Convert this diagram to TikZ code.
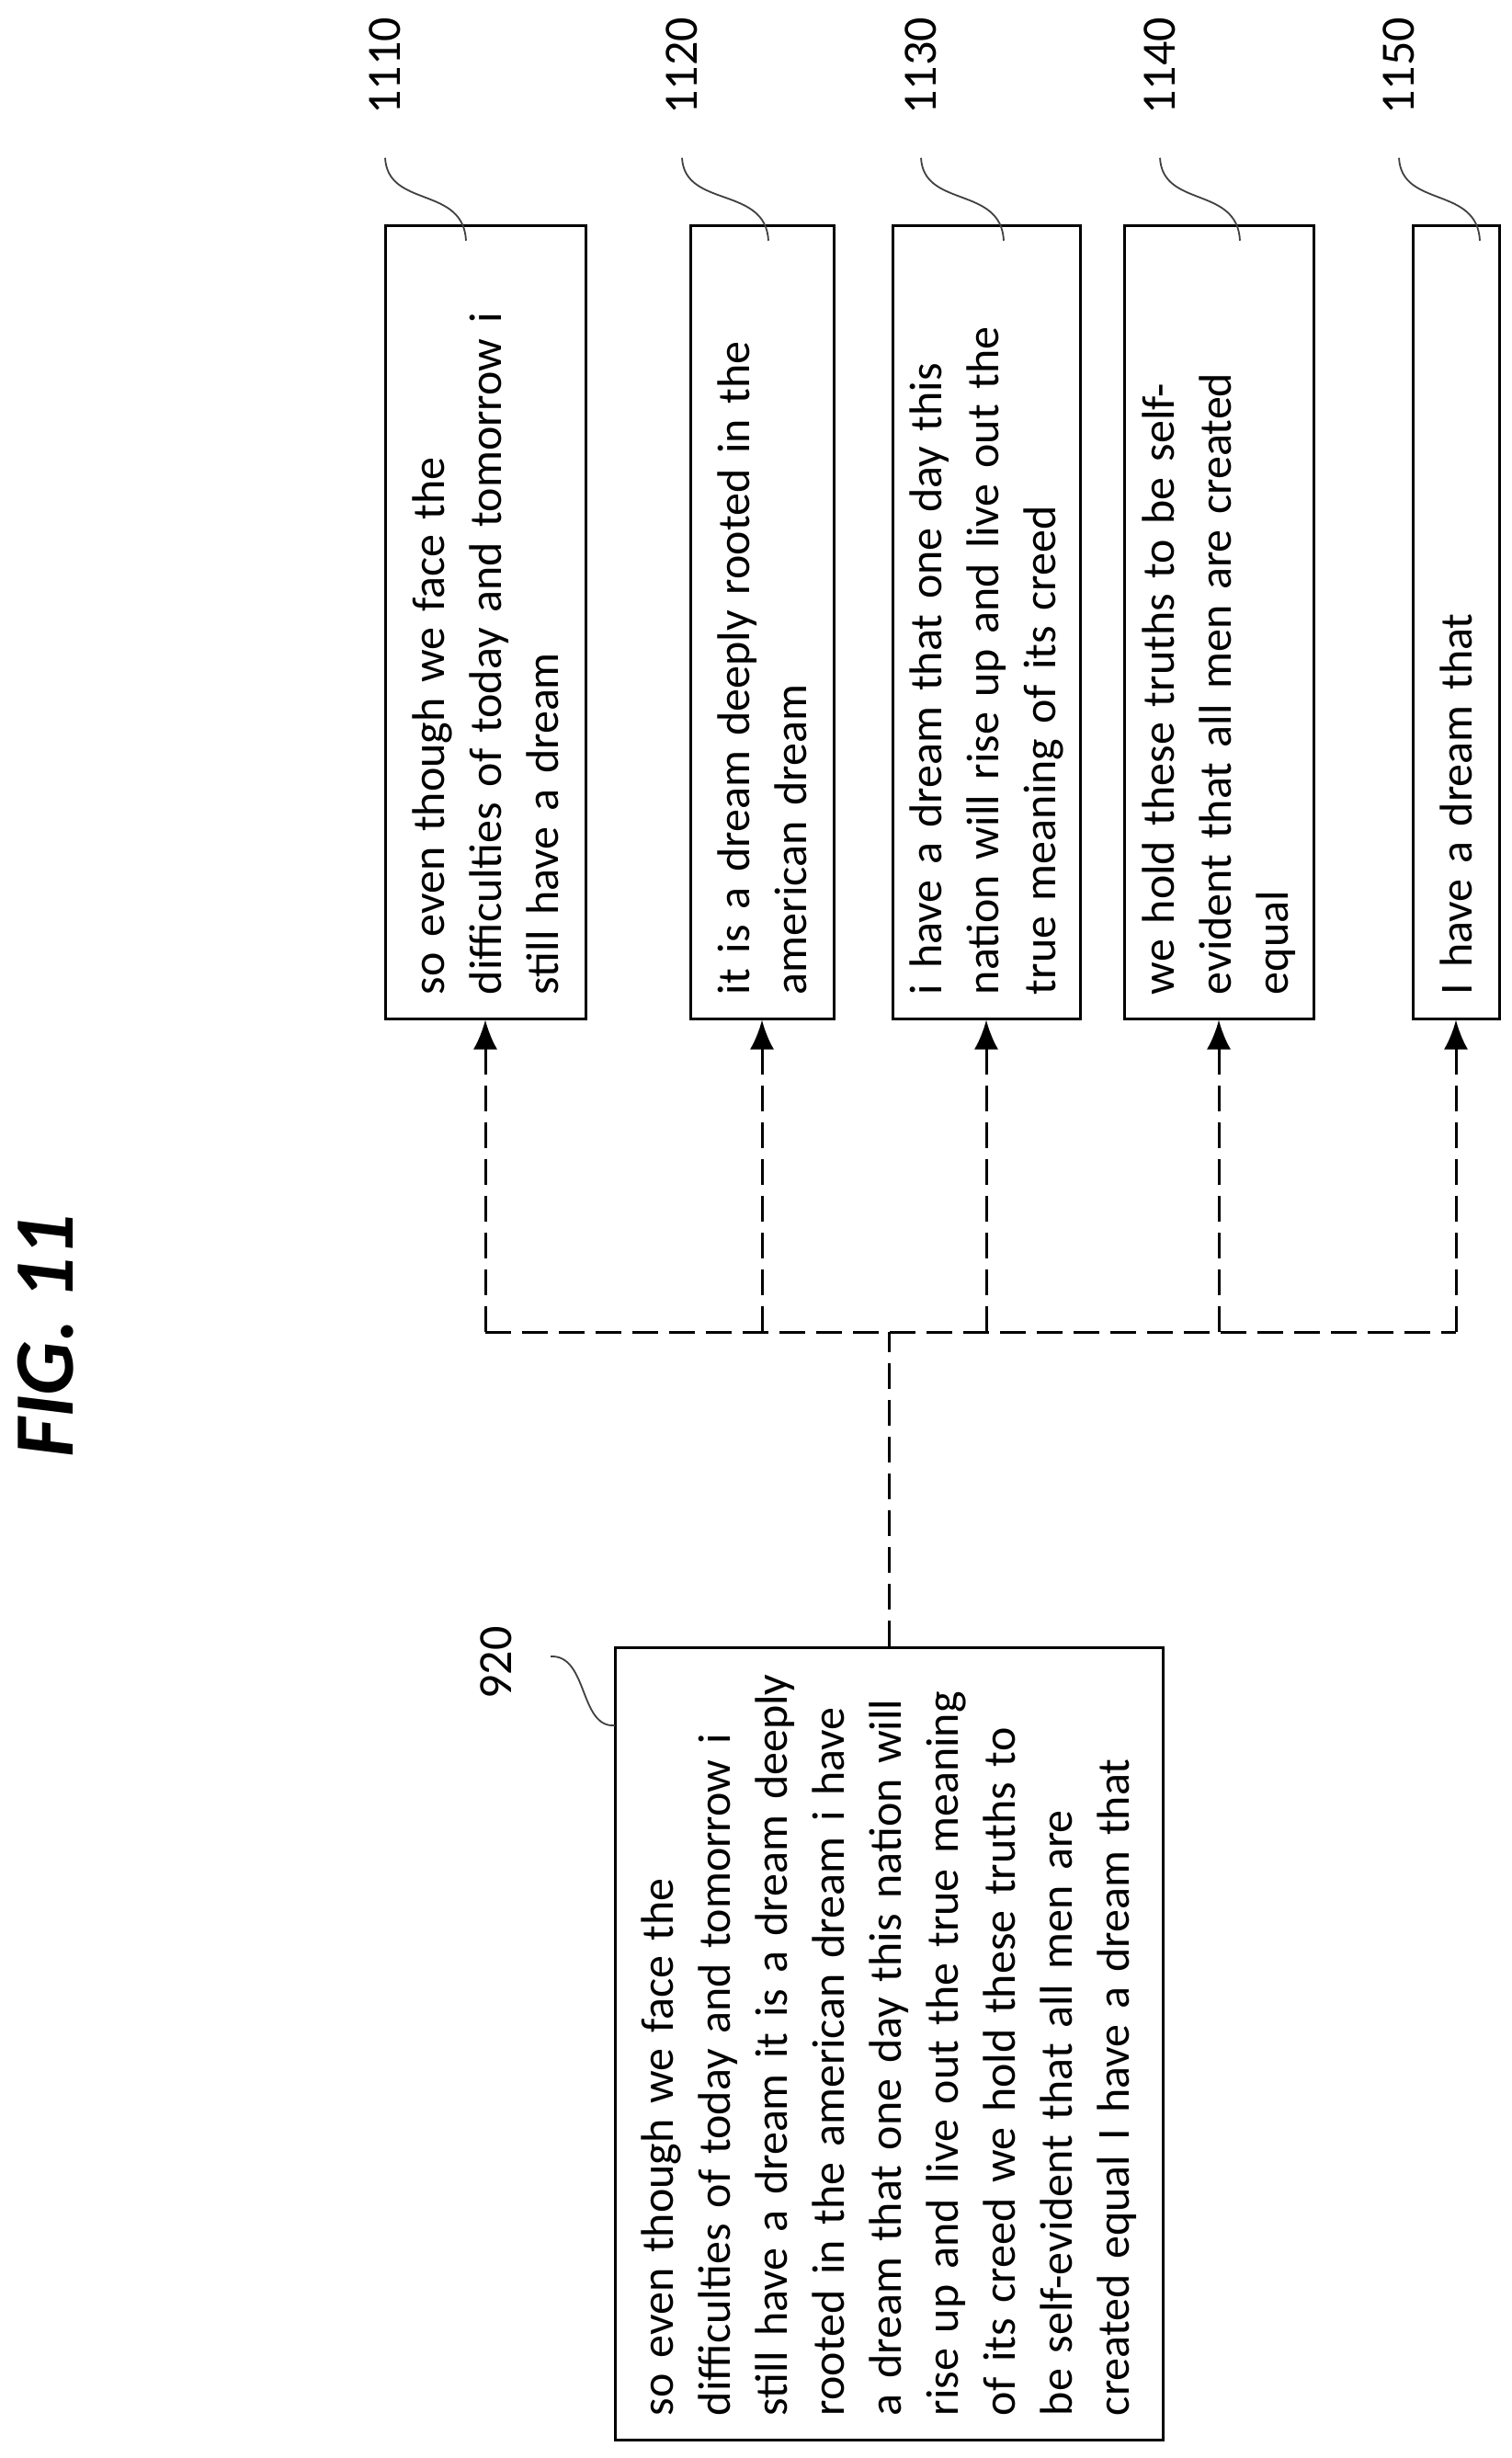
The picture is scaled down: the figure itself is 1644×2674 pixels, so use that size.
\documentclass[tikz,border=0pt]{standalone}
\usepackage{fontspec}
\setmainfont{Carlito}
\usetikzlibrary{arrows.meta,calc}
\tikzset{
  txtbox/.style={draw, line width=1.5pt, rotate=90, minimum width=431pt, text width=405pt,
    align=left, inner xsep=13pt, inner ysep=8pt, font=\fontsize{25}{31}\selectfont},
  tag/.style={rotate=90, font=\fontsize{26}{30}\selectfont},
  leader/.style={line width=0.9pt, black!75},
  link/.style={line width=1.5pt, dash pattern=on 14pt off 6pt}
}
\begin{document}
\begin{tikzpicture}[x=0.5pt,y=-0.5pt]
        \useasboundingbox (0,0) rectangle (1644,2674);

        \node[rotate=90, font=\fontsize{46}{50}\selectfont\bfseries\itshape] (fig) at (50,1453) {FIG. 11};

        % result boxes
        \node[txtbox, minimum height=109pt] (b1110) at (528,677) {so even though we face the\\difficulties of today and tomorrow i\\still have a dream};
        \node[txtbox, minimum height=78pt] (b1120) at (829,677) {it is a dream deeply rooted in the\\american dream};
        \node[txtbox, minimum height=102pt] (b1130) at (1073,677) {i have a dream that one day this\\nation will rise up and live out the\\true meaning of its creed};
        \node[txtbox, minimum height=103pt] (b1140) at (1326,677) {we hold these truths to be self-\\evident that all men are created\\equal};
        \node[txtbox, minimum height=47pt] (b1150) at (1584,677) {I have a dream that};

        % source box
        \node[txtbox, minimum width=428pt, minimum height=298pt] (b920) at (967,2223) {so even though we face the\\difficulties of today and tomorrow i\\still have a dream it is a dream deeply\\rooted in the american dream i have\\a dream that one day this nation will\\rise up and live out the true meaning\\of its creed we hold these truths to\\be self-evident that all men are\\created equal I have a dream that};

        % reference numerals
        \node[tag] (l1110) at (419,72) {1110};
        \node[tag] (l1120) at (742,72) {1120};
        \node[tag] (l1130) at (1002,72) {1130};
        \node[tag] (l1140) at (1262,72) {1140};
        \node[tag] (l1150) at (1522,72) {1150};
        \node[tag] (l920) at (540,1809) {920};

        \foreach \n/\d in {1110/88,1120/94,1130/90,1140/87,1150/88}{
          \coordinate (e\n) at ($(l\n.west)+(\d,130)$);
          \draw[leader] ($(l\n.west)+(0,40)$) .. controls ++(3,55) and ($(e\n)+(-3,-60)$) .. (e\n);
        }
        \coordinate (e920) at (669,1877);
        \draw[leader] (599,1802) .. controls (640,1800) and (630,1880) .. (e920);

        % dashed connectors
        \coordinate (busy) at (967,1449);
        \draw[link] (b1110.west |- busy) -- (b1150.west |- busy);
        \draw[link] (b920.east) -- (b920.east |- busy);
        \foreach \n in {1110,1120,1130,1140,1150}
          \draw[link,-{Latex[length=16pt,width=13pt]}] (b\n.west |- busy) -- (b\n.west);
\end{tikzpicture}
\end{document}
